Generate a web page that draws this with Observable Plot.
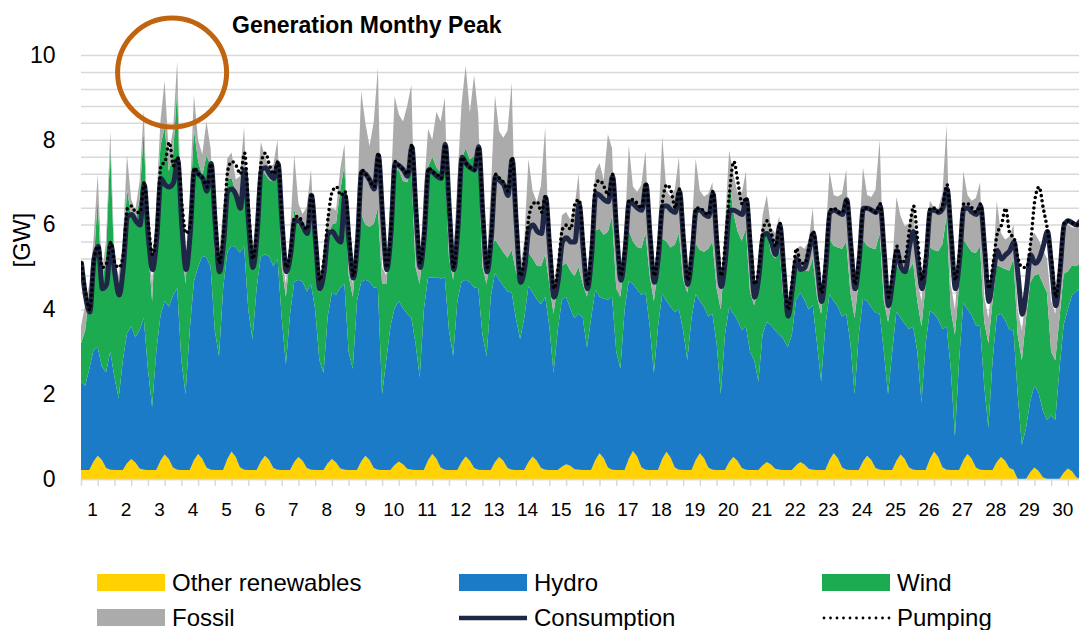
<!DOCTYPE html>
<html><head><meta charset="utf-8">
<script src="https://cdn.jsdelivr.net/npm/d3@7"></script>
<script src="https://cdn.jsdelivr.net/npm/@observablehq/plot@0.6"></script>
<style>
html,body{margin:0;padding:0;background:#fff;overflow:hidden;}
#wrap{position:relative;width:1079px;height:630px;font-family:"Liberation Sans",Arial,sans-serif;color:#000;}
#chart{position:absolute;left:0;top:0;}
#title{position:absolute;left:232px;top:14px;font-weight:bold;font-size:23px;line-height:1;white-space:nowrap;}
.lg{position:absolute;font-size:24px;line-height:1;white-space:nowrap;}
</style></head><body>
<div id="wrap"><div id="chart"></div><div id="title">Generation Monthy Peak</div><div id="legend"></div></div>
<script>
// ---- data: one sample every 3 hours, 8 per day, plus the closing hour 720 ----
const stepHours = 3;
const days = d3.range(1, 31);
const yLabelTicks = [0, 2, 4, 6, 8, 10];
const gridStep = 0.4;
const labelOffsetHours = 8;

const otherRenewables = [
.21,.21,.21,.41,.55,.45,.26,.22, .21,.21,.21,.37,.47,.39,.25,.22, .21,.21,.21,.43,.58,.47,.27,.22,
.21,.21,.21,.44,.59,.48,.27,.22, .21,.21,.21,.47,.65,.52,.28,.22, .21,.21,.21,.41,.55,.45,.26,.22,
.21,.21,.21,.40,.52,.43,.26,.22, .21,.21,.21,.37,.47,.39,.25,.22, .21,.21,.21,.41,.55,.45,.26,.22,
.21,.21,.21,.33,.41,.35,.24,.22, .21,.21,.21,.44,.59,.48,.27,.22, .21,.21,.21,.40,.53,.43,.26,.22,
.21,.21,.21,.40,.52,.43,.26,.22, .21,.21,.21,.40,.53,.43,.26,.22, .21,.21,.21,.29,.35,.31,.23,.22,
.21,.21,.21,.45,.61,.49,.27,.22, .21,.21,.21,.48,.66,.53,.28,.22, .21,.21,.21,.47,.64,.51,.27,.22,
.21,.21,.21,.45,.61,.49,.27,.22, .21,.21,.21,.40,.52,.43,.26,.22, .21,.21,.21,.32,.40,.34,.24,.22,
.21,.21,.21,.32,.40,.34,.24,.22, .21,.21,.21,.45,.61,.49,.27,.22, .21,.21,.21,.41,.55,.45,.26,.22,
.21,.21,.21,.43,.58,.47,.27,.22, .21,.21,.21,.47,.65,.52,.28,.22, .21,.21,.21,.44,.59,.48,.27,.22,
.21,.21,.21,.40,.52,.43,.26,.22, 0,0,0,.16,.27,.19,.04,0, 0,0,0,.15,.25,.18,.04,0,
0];

const hydro = [
2.09,1.99,2.39,2.64,2.55,2.20,2.26,2.78,
2.19,1.69,2.59,3.07,3.13,2.95,3.26,3.58,
2.39,1.49,2.79,3.42,3.62,3.59,4.06,4.28,
2.59,1.79,3.29,4.22,4.41,4.78,4.96,4.78,
3.29,2.69,4.29,4.89,4.85,4.95,5.06,5.28,
3.79,3.09,4.29,4.84,4.75,4.80,4.76,4.98,
3.59,2.49,3.69,4.25,4.18,4.22,4.16,4.38,
3.79,2.59,2.29,3.47,3.93,3.95,4.26,4.38,
2.79,2.39,3.99,4.24,4.15,4.20,4.26,4.28,
1.79,2.59,3.39,3.70,3.79,3.68,3.66,3.58,
2.99,2.19,3.79,4.32,4.16,4.28,4.46,4.53,
3.29,2.69,3.99,4.25,4.17,4.21,4.26,4.28,
3.19,2.69,4.09,4.45,4.18,4.12,4.16,4.18,
3.59,3.09,3.59,4.15,3.87,3.81,3.86,4.08,
3.39,2.29,3.29,3.93,3.95,3.71,3.56,3.68,
3.59,2.89,3.59,4.01,3.69,3.77,3.96,4.08,
2.79,2.39,3.79,4.19,3.94,3.94,4.06,4.18,
3.39,2.29,3.39,3.90,3.56,3.55,3.66,3.78,
3.29,2.59,3.59,3.91,3.59,3.57,3.56,3.68,
2.99,1.79,3.19,3.65,3.38,3.32,3.26,3.38,
2.79,2.59,2.09,3.10,3.30,3.29,3.26,3.18,
3.09,2.89,3.19,3.90,4.00,3.89,3.76,3.88,
2.99,2.09,3.39,3.91,3.59,3.57,3.56,3.68,
2.99,1.79,3.19,3.84,3.65,3.60,3.66,3.68,
2.79,1.79,2.79,3.52,3.22,3.19,3.26,3.38,
2.79,1.59,2.99,3.49,3.25,3.25,3.26,3.38,
2.39,0.79,2.59,3.72,3.41,3.38,3.36,3.38,
1.99,0.99,2.59,3.45,3.38,3.32,3.26,3.28,
2.00,0.80,1.20,1.68,1.93,1.85,1.58,1.40,
1.50,1.40,2.60,3.49,3.75,4.16,4.38,4.50,
4.50];

const wind = [
0.9,1.3,1.8,2.0,3.5,1.8,2.8,4.8,
2.5,2.6,2.4,3.4,2.6,2.7,3.1,4.4,
2.9,2.5,3.2,4.0,4.1,3.2,3.3,4.7,
2.8,2.6,2.7,3.6,2.5,1.9,2.4,2.4,
1.8,2.1,1.5,1.7,1.6,1.3,1.3,1.9,
1.6,1.7,1.7,2.1,1.9,1.8,2.0,2.3,
1.2,1.6,1.4,1.7,1.3,1.2,1.5,2.0,
1.1,1.6,2.3,1.8,1.6,1.7,2.3,2.8,
1.8,1.7,1.3,1.6,1.3,1.3,1.5,1.9,
2.6,1.8,2.2,3.2,3.1,3.0,3.1,3.5,
1.8,2.2,1.8,2.6,2.85,2.6,2.5,2.85,
1.7,1.8,1.8,2.9,3.1,2.9,3.1,3.2,
1.6,1.7,1.1,0.8,0.8,0.8,0.8,1.0,
1.1,1.3,0.9,0.8,0.8,0.8,0.9,1.0,
1.0,1.4,1.1,0.8,0.8,0.9,1.0,1.1,
0.8,1.2,1.2,1.4,1.6,1.5,1.6,1.9,
1.5,1.7,1.2,1.2,1.0,1.0,1.1,1.4,
1.2,1.7,1.4,1.3,1.4,1.4,1.6,1.8,
1.2,1.6,1.2,1.2,1.2,1.3,1.6,1.7,
1.3,2.0,1.9,3.0,2.4,2.1,2.1,2.3,
1.4,1.3,2.2,2.1,2.2,1.7,1.7,2.1,
0.9,0.8,0.9,0.7,0.6,0.7,0.9,1.1,
1.1,1.6,1.2,1.3,1.3,1.4,1.6,1.7,
1.2,1.8,1.3,1.4,1.3,1.4,1.5,1.9,
1.2,1.7,1.3,1.1,1.1,1.2,1.4,1.5,
1.2,1.8,1.4,1.5,1.5,1.6,2.0,2.6,
1.4,2.4,1.8,1.5,1.5,1.5,1.7,1.9,
1.5,2.0,1.4,1.2,1.1,1.2,1.4,1.7,
1.4,2.0,2.6,2.8,2.6,2.8,3.0,3.0,
1.5,1.4,1.2,1.2,0.9,0.7,0.6,0.6,
0.5];

const fossil = [
0.4,0.6,0.2,0.6,0.6,0.4,0.3,0.4,
0.3,0.3,0.4,0.8,0.4,0.3,0.4,0.5,
0.3,0.4,0.3,0.6,1.1,0.4,0.6,0.65,
0.4,0.4,0.4,0.8,0.5,0.5,0.8,0.4,
0.3,0.3,0.4,0.5,0.6,0.3,0.5,0.9,
0.3,0.3,0.4,0.6,0.4,0.3,0.4,0.5,
0.3,0.3,0.5,1.3,0.5,0.4,0.5,0.7,
0.3,0.4,0.4,0.6,0.4,0.3,0.5,0.5,
0.5,0.3,0.9,2.9,2.4,1.9,2.4,3.3,
0.4,0.2,0.8,1.8,1.3,1.4,1.8,2.0,
0.5,0.3,1.0,0.9,0.4,1.3,1.2,1.4,
0.4,0.4,1.0,1.3,1.95,1.1,1.9,0.9,
0.6,0.4,1.4,3.4,2.7,2.7,3.0,3.95,
0.5,0.4,0.9,2.2,1.6,1.5,1.9,3.0,
0.6,0.7,0.6,1.2,1.2,1.2,1.6,2.2,
0.7,0.5,0.8,1.4,1.55,1.3,2.3,1.6,
0.5,0.5,0.6,2.0,1.3,1.3,1.5,1.95,
0.5,0.5,0.8,2.4,1.2,1.2,1.3,1.8,
0.5,0.4,0.8,2.0,1.4,1.3,1.3,1.4,
0.5,0.6,0.7,0.7,0.9,0.9,1.1,1.35,
0.5,0.3,0.5,0.7,0.8,0.6,0.6,0.7,
0.4,0.3,0.4,0.5,0.5,0.5,0.7,1.2,
0.5,0.5,0.8,1.6,1.2,1.2,1.3,1.7,
0.5,0.6,0.9,1.7,1.2,1.2,1.4,2.2,
0.6,0.6,0.7,1.6,1.3,1.1,1.1,1.4,
0.5,0.6,0.8,1.1,1.0,1.0,1.2,2.15,
0.6,0.6,0.7,1.6,1.2,1.2,1.3,1.5,
0.6,0.6,0.6,1.5,0.8,0.7,0.8,0.8,
0.6,0.7,0.6,1.0,1.0,0.8,0.8,0.8,
1.2,1.1,0.8,1.0,1.1,0.9,0.9,0.9,
0.9];

const consumption = [
5.1,4.3,3.95,5.2,5.5,4.5,4.6,5.55,
4.85,4.35,5.0,6.2,6.25,6.1,6.0,6.95,
5.7,4.95,5.7,7.1,6.95,6.9,7.0,7.55,
6.0,4.95,5.8,7.3,7.2,7.1,6.8,7.45,
6.0,4.9,5.6,6.8,6.85,6.7,6.4,7.3,
6.0,5.0,5.8,7.3,7.35,7.2,7.1,7.45,
6.0,4.9,5.3,6.1,6.1,5.95,5.8,6.7,
5.6,4.5,4.9,5.8,5.85,5.7,5.6,6.7,
5.6,4.75,5.6,7.25,7.2,7.05,6.85,7.65,
6.2,4.95,5.8,7.45,7.4,7.3,7.15,7.85,
6.3,5.0,5.8,7.3,7.25,7.15,7.1,7.9,
6.3,4.95,5.9,7.6,7.45,7.35,7.3,7.85,
6.2,4.9,5.7,7.15,7.05,6.95,6.7,7.55,
6.0,4.65,5.0,5.9,6.0,5.85,5.8,6.65,
5.4,4.3,4.7,5.6,5.7,5.6,5.6,6.5,
5.4,4.5,5.3,6.75,6.7,6.6,6.55,7.15,
5.8,4.7,5.4,6.55,6.5,6.4,6.35,6.95,
5.7,4.65,5.3,6.45,6.45,6.35,6.3,6.8,
5.6,4.6,5.3,6.35,6.35,6.25,6.2,6.75,
5.5,4.55,5.2,6.35,6.35,6.3,6.25,6.6,
5.4,4.3,4.8,5.75,5.8,5.6,5.3,6.0,
4.9,3.85,4.5,5.2,4.95,5.0,5.4,5.8,
5.0,4.2,5.0,6.3,6.35,6.3,6.25,6.6,
5.5,4.5,5.2,6.4,6.4,6.35,6.3,6.45,
5.3,4.1,4.7,5.4,5.0,4.9,5.5,5.85,
5.2,4.5,5.2,6.35,6.35,6.3,6.4,6.85,
5.7,4.5,5.2,6.4,6.4,6.3,6.25,6.45,
5.4,4.2,4.8,5.4,5.2,5.3,5.4,5.6,
4.8,3.9,4.5,5.3,5.1,5.2,5.5,5.85,
5.0,4.1,4.9,6.0,6.1,6.05,6.0,6.1,
5.9];

const pumping = [
5.1,4.4,4.0,5.2,5.5,5.0,5.1,5.6,
5.1,5.0,5.3,6.4,6.45,6.3,6.3,7.0,
6.0,5.3,5.9,7.4,7.5,7.95,7.4,7.6,
6.5,5.8,6.0,7.35,7.2,7.1,6.9,7.45,
6.2,5.1,5.9,7.3,7.5,7.4,7.2,7.7,
6.3,5.2,6.0,7.5,7.7,7.4,7.2,7.5,
6.1,5.0,5.4,6.2,6.2,6.0,5.9,6.75,
5.7,4.7,5.2,6.2,6.8,6.9,6.7,6.8,
5.8,4.8,5.7,7.3,7.2,7.05,6.9,7.7,
6.3,5.0,5.9,7.5,7.4,7.3,7.2,7.9,
6.5,5.1,5.9,7.35,7.25,7.2,7.1,7.9,
6.4,5.0,6.0,7.6,7.45,7.35,7.3,7.85,
6.3,5.0,5.8,7.2,7.1,7.0,6.8,7.6,
6.1,4.8,5.3,6.2,6.5,6.55,6.3,6.7,
5.6,4.5,5.0,5.9,6.0,5.9,6.5,6.6,
5.6,4.6,5.5,7.0,7.05,6.9,6.7,7.2,
5.9,4.8,5.5,6.6,6.6,6.5,6.4,7.0,
5.8,4.8,5.5,6.6,6.95,6.8,6.4,6.85,
5.7,4.7,5.4,6.4,6.4,6.3,6.25,6.8,
5.7,4.8,5.6,6.8,7.5,7.0,6.5,6.65,
5.6,4.6,5.0,5.9,6.1,5.8,5.5,6.05,
5.0,4.0,4.7,5.45,5.1,5.1,5.5,5.85,
5.2,4.4,5.2,6.35,6.4,6.3,6.3,6.6,
5.6,4.6,5.3,6.4,6.4,6.35,6.3,6.5,
5.4,4.3,4.9,5.5,5.1,5.2,5.9,6.45,
5.6,4.7,5.4,6.4,6.4,6.3,6.5,6.95,
5.8,4.7,5.4,6.5,6.5,6.4,6.3,6.5,
5.5,4.5,5.1,5.8,6.0,6.4,5.8,5.7,
5.2,5.0,5.0,5.6,6.6,6.9,6.4,5.9,
5.2,4.3,5.0,6.05,6.1,6.05,6.0,6.1,
5.9];

const sourceNames = ["Other renewables", "Hydro", "Wind", "Fossil"];
const sourceColors = ["#FFD200", "#1C7BC6", "#1DAB52", "#ABABAB"];
const peakNote = [{hour: 65, gw: 9.6}];

// ---- tables for Plot ----
const hours = d3.range(0, 720 + stepHours, stepHours);
const seriesBySource = [otherRenewables, hydro, wind, fossil];
const table = sourceNames.flatMap((name, k) =>
  hours.map((h, i) => ({hour: h, source: name, value: seriesBySource[k][i]})));
const lineTable = hours.map((h, i) => ({hour: h, consumption: consumption[i], pumping: pumping[i]}));
const halfDayTicks = d3.range(0, 721, 12);
const gridTicks = d3.range(0, 10 + 1e-9, gridStep);

const chart = Plot.plot({
  width: 1079, height: 530,
  marginLeft: 81, marginRight: 0, marginTop: 55, marginBottom: 51,
  style: {fontFamily: "Liberation Sans, Arial, sans-serif", color: "#000", background: "transparent", overflow: "visible"},
  x: {domain: [0, 716], axis: null, label: null},
  y: {domain: [0, 10], axis: null, label: null},
  color: {domain: sourceNames, range: sourceColors},
  marks: [
    Plot.gridY(gridTicks, {stroke: "#d9d9d9", strokeOpacity: 1, strokeWidth: 1.5}),
    Plot.areaY(table, {x: "hour", y: "value", z: "source", fill: "source", order: sourceNames, clip: true}),
    Plot.ruleY([0], {stroke: "#d9d9d9", strokeWidth: 1.5}),
    Plot.axisX(halfDayTicks, {tickSize: 7, tickFormat: () => "", stroke: "#d9d9d9", strokeWidth: 1.5, label: null}),
    Plot.text(days, {x: d => (d - 1) * 24 + labelOffsetHours, y: 0, dy: 30, text: d => String(d), fontSize: 19, fill: "#000"}),
    Plot.axisY(yLabelTicks, {tickSize: 0, tickPadding: 26, fontSize: 23, label: null, fill: "#000"}),
    Plot.text(["[GW]"], {frameAnchor: "left", dx: -59, rotate: -90, text: d => d, fontSize: 24, fill: "#000"}),
    Plot.line(lineTable, {x: "hour", y: "consumption", stroke: "#1F2746", strokeWidth: 5, curve: "monotone-x", clip: true}),
    Plot.line(lineTable, {x: "hour", y: "pumping", stroke: "#000", strokeWidth: 3.6, strokeDasharray: "0 5.2", strokeLinecap: "round", curve: "monotone-x", clip: true}),
    Plot.dot(peakNote, {x: "hour", y: "gw", r: 54.5, stroke: "#C0640F", strokeWidth: 5, fill: "none"})
  ]
});
document.getElementById("chart").appendChild(chart);

// ---- legend ----
const legendItems = [
  {name: "Other renewables", kind: "area", color: sourceColors[0], col: 0, row: 0},
  {name: "Hydro", kind: "area", color: sourceColors[1], col: 1, row: 0},
  {name: "Wind", kind: "area", color: sourceColors[2], col: 2, row: 0},
  {name: "Fossil", kind: "area", color: sourceColors[3], col: 0, row: 1},
  {name: "Consumption", kind: "line", color: "#1F2746", col: 1, row: 1},
  {name: "Pumping", kind: "dots", color: "#000", col: 2, row: 1}
];
const colX = [97, 459, 822];
const rowY = [574, 609];
const lg = document.getElementById("legend");
for (const it of legendItems) {
  const x = colX[it.col], y = rowY[it.row];
  const sw = document.createElementNS("http://www.w3.org/2000/svg", "svg");
  sw.setAttribute("width", 70); sw.setAttribute("height", 17);
  sw.style.position = "absolute"; sw.style.left = x + "px"; sw.style.top = y + "px";
  if (it.kind === "area") {
    sw.innerHTML = `<rect x="0" y="0" width="68" height="17" fill="${it.color}"/>`;
  } else if (it.kind === "line") {
    sw.innerHTML = `<line x1="0" x2="68" y1="9" y2="9" stroke="${it.color}" stroke-width="4.5"/>`;
  } else {
    sw.innerHTML = `<line x1="2" x2="68" y1="9" y2="9" stroke="${it.color}" stroke-width="2.8" stroke-dasharray="0 6.5" stroke-linecap="round"/>`;
  }
  lg.appendChild(sw);
  const t = document.createElement("div");
  t.className = "lg"; t.textContent = it.name;
  t.style.left = (x + 75) + "px"; t.style.top = (y - 3) + "px";
  lg.appendChild(t);
}
</script>
</body></html>
